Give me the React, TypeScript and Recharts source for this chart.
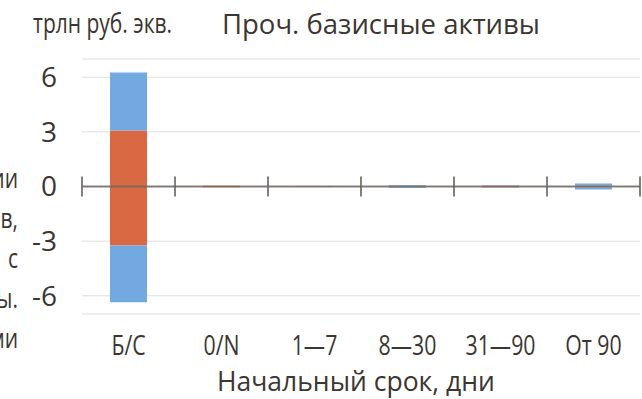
import React from "react";
import {
  BarChart,
  Bar,
  XAxis,
  YAxis,
  CartesianGrid,
  ReferenceLine,
} from "recharts";

const categories = ["Б/С", "0/N", "1—7", "8—30", "31—90", "От 90"];
const orangePos = [3.07, 0.04, 0.01, 0.02, 0.04, 0.05];
const bluePos = [3.19, 0, 0.02, 0.05, 0.01, 0.12];
const orangeNeg = [-3.24, -0.04, -0.01, -0.02, -0.04, -0.05];
const blueNeg = [-3.11, 0, -0.02, -0.05, -0.01, -0.12];
const yTicks = [-6, -3, 0, 3, 6];
const sideText = ["ии", "в,", "с", "ы.", "ми"];

const data = categories.map((name, i) => ({
  name,
  orangePos: orangePos[i],
  bluePos: bluePos[i],
  orangeNeg: orangeNeg[i],
  blueNeg: blueNeg[i],
}));

// tick marks sit on category boundaries: start of each band + end of the last
const boundaries = [
  ...categories.map((c) => ({ cat: c, pos: "start" })),
  { cat: categories[categories.length - 1], pos: "end" },
];

const BLUE = "#72a9e0";
const ORANGE = "#d96942";
const TEXT = "#3b3631";
const AXIS = "#6e6962";
const FONT = "'Open Sans', sans-serif";

// condensed look: Open Sans squeezed horizontally
const XTick = (props: any) => {
  const { x, y, payload } = props;
  return (
    <g transform={`translate(${x},${y + 41})`}>
      <text
        transform="scale(0.76,1)"
        textAnchor="middle"
        fill={TEXT}
        fontSize={28}
        fontFamily={FONT}
      >
        {payload.value}
      </text>
    </g>
  );
};

const App = () => {
  return (
    <div
      style={{
        position: "absolute",
        left: 0,
        top: 0,
        width: 642,
        height: 399,
        background: "#fff",
        overflow: "hidden",
      }}
    >
      <div
        style={{
          position: "absolute",
          left: 33,
          top: 3,
          fontFamily: FONT,
          fontSize: 28,
          color: TEXT,
          whiteSpace: "nowrap",
          transform: "scaleX(0.75)",
          transformOrigin: "left top",
        }}
      >
        трлн руб. экв.
      </div>
      <div
        style={{
          position: "absolute",
          left: 222,
          top: 5,
          fontFamily: FONT,
          fontSize: 27.5,
          color: TEXT,
          whiteSpace: "nowrap",
        }}
      >
        Проч. базисные активы
      </div>
      <div
        style={{
          position: "absolute",
          left: -200,
          top: 157,
          width: 218,
          textAlign: "right",
          fontFamily: FONT,
          fontSize: 28,
          lineHeight: "40px",
          color: TEXT,
          transform: "scaleX(0.75)",
          transformOrigin: "right top",
        }}
      >
        {sideText.map((t) => (
          <div key={t}>{t}</div>
        ))}
      </div>
      <div
        style={{
          position: "absolute",
          left: 217,
          top: 363,
          fontFamily: FONT,
          fontSize: 26.5,
          color: TEXT,
          whiteSpace: "nowrap",
        }}
      >
        Начальный срок, дни
      </div>
      <BarChart
        width={642}
        height={399}
        data={data}
        stackOffset="sign"
        margin={{ top: 59, right: 2, left: 0, bottom: 45 }}
        style={{ position: "absolute", left: 0, top: 0 }}
      >
        <CartesianGrid vertical={false} stroke="#dedede" strokeWidth={1} />
        <XAxis
          dataKey="name"
          height={40}
          axisLine={false}
          tickLine={false}
          tickSize={0}
          tickMargin={0}
          interval={0}
          tick={<XTick />}
        />
        <YAxis
          width={82}
          domain={[-7, 7]}
          ticks={yTicks}
          axisLine={false}
          tickLine={false}
          tickSize={0}
          tickMargin={25}
          tick={{ fontSize: 28, fill: TEXT, fontFamily: FONT }}
        />
        <Bar dataKey="orangePos" stackId="s" fill={ORANGE} barSize={37} isAnimationActive={false} />
        <Bar dataKey="bluePos" stackId="s" fill={BLUE} barSize={37} isAnimationActive={false} />
        <Bar dataKey="orangeNeg" stackId="s" fill={ORANGE} barSize={37} isAnimationActive={false} />
        <Bar dataKey="blueNeg" stackId="s" fill={BLUE} barSize={37} isAnimationActive={false} />
        <ReferenceLine y={0} stroke={AXIS} strokeOpacity={0.85} strokeWidth={2} />
        {boundaries.map((b, i) => (
          <ReferenceLine
            key={i}
            segment={[
              { x: b.cat, y: -0.55 },
              { x: b.cat, y: 0.55 },
            ]}
            position={b.pos as any}
            stroke={AXIS}
            strokeOpacity={0.85}
            strokeWidth={2}
            ifOverflow="visible"
          />
        ))}
      </BarChart>
    </div>
  );
};

export default App;
